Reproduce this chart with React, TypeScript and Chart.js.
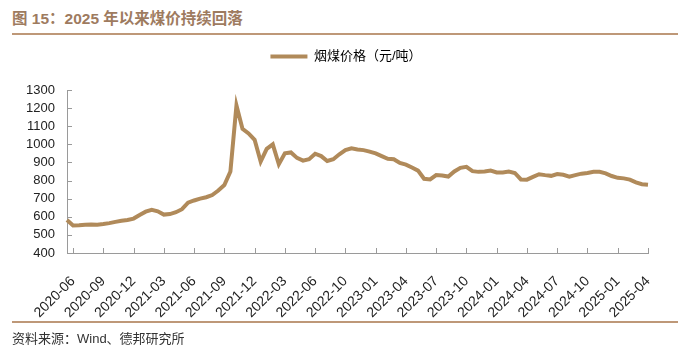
import React, { useEffect, useRef } from 'react';
import { Chart, registerables } from 'chart.js';

Chart.register(...registerables);

const titleText = '图 15：2025 年以来煤价持续回落';
const sourceText = '资料来源：Wind、德邦研究所';
const seriesName = '烟煤价格（元/吨）';

const tickLabels = [
  '2020-06', '2020-09', '2020-12', '2021-03', '2021-06', '2021-09', '2021-12',
  '2022-03', '2022-06', '2022-10', '2023-01', '2023-04', '2023-07', '2023-10',
  '2024-01', '2024-04', '2024-07', '2024-10', '2025-01', '2025-04',
];

const pointsPerTick = 5;
const leadPoints = 1;

const prices = [
  582, 552, 553, 556, 557, 556, 560, 565, 572, 578,
  582, 590, 610, 628, 638, 630, 612, 615, 625, 642,
  678, 690, 700, 708, 720, 745, 775, 850, 1215, 1085,
  1060, 1025, 905, 975, 1000, 890, 950, 955, 925, 910,
  918, 948, 935, 908, 918, 945, 968, 978, 972, 968,
  960, 950, 935, 920, 918, 897, 888, 872, 855, 810,
  806, 830, 828, 822, 850, 870, 876, 852, 848, 850,
  855, 845, 845, 850, 842, 806, 805, 820, 835, 830,
  826, 836, 832, 822, 830, 838, 842, 848, 848, 840,
  825, 815, 812, 805, 790, 780, 777,
];

const yMin = 400;
const yMax = 1300;
const yStep = 100;

const lineColor = '#B08A5A';
const axisColor = '#9a9a9a';
const textColor = '#222';
const fontFamily = "'Liberation Sans', Arial, 'Noto Sans CJK SC', sans-serif";

const categories = prices.map((_, i) => {
  const k = i - leadPoints;
  return k >= 0 && k % pointsPerTick === 0 ? tickLabels[k / pointsPerTick] : '';
});

const yTickValues: number[] = [];
for (let v = yMin; v <= yMax; v += yStep) yTickValues.push(v);

const innerTicks = {
  id: 'innerTicks',
  afterDraw(chart: any) {
    const { ctx, chartArea } = chart;
    const x = chart.scales.x;
    const y = chart.scales.y;
    ctx.save();
    ctx.strokeStyle = axisColor;
    ctx.lineWidth = 1;
    ctx.beginPath();
    x.ticks.forEach((_: any, i: number) => {
      const px = Math.round(x.getPixelForTick(i)) + 0.5;
      ctx.moveTo(px, chartArea.bottom);
      ctx.lineTo(px, chartArea.bottom - 5);
    });
    y.ticks.forEach((_: any, i: number) => {
      const py = Math.round(y.getPixelForTick(i)) + 0.5;
      ctx.moveTo(chartArea.left, py);
      ctx.lineTo(chartArea.left + 5, py);
    });
    ctx.stroke();
    ctx.restore();
  },
};

const legendSpacer = {
  id: 'legendSpacer',
  beforeInit(chart: any) {
    const legend = chart.legend;
    if (!legend) return;
    const orig = legend.fit;
    legend.fit = function () {
      orig.call(this);
      this.height += 17;
    };
  },
  afterLayout(chart: any) {
    const legend = chart.legend;
    if (!legend) return;
    legend.left += 22;
    legend.right += 22;
  },
};

export default function App() {
  const canvasRef = useRef<HTMLCanvasElement | null>(null);

  useEffect(() => {
    const canvas = canvasRef.current;
    if (!canvas) return;
    const chart = new Chart(canvas, {
      type: 'line',
      data: {
        labels: categories,
        datasets: [
          {
            label: seriesName,
            data: prices,
            borderColor: lineColor,
            backgroundColor: lineColor,
            borderWidth: 4,
            pointRadius: 0,
            tension: 0,
            fill: false,
          },
        ],
      },
      options: {
        animation: false,
        responsive: false,
        maintainAspectRatio: false,
        layout: { padding: { top: 40, left: 0, right: 37, bottom: 0 } },
        plugins: {
          legend: {
            display: true,
            position: 'top',
            align: 'center',
            labels: {
              boxWidth: 37,
              boxHeight: 4,
              padding: 10,
              color: textColor,
              font: { family: fontFamily, size: 13 },
              generateLabels: () => [
                {
                  text: seriesName,
                  fillStyle: lineColor,
                  strokeStyle: lineColor,
                  lineWidth: 0,
                  hidden: false,
                  datasetIndex: 0,
                },
              ],
            },
          },
          tooltip: { enabled: false },
          title: { display: false },
        },
        scales: {
          x: {
            type: 'category',
            offset: false,
            grid: { display: false, drawTicks: false },
            border: { display: true, color: axisColor, width: 1 },
            ticks: {
              autoSkip: false,
              maxRotation: 45,
              minRotation: 45,
              padding: 20,
              color: textColor,
              font: { family: fontFamily, size: 14 },
            },
            afterBuildTicks: (axis: any) => {
              axis.ticks = axis.ticks.filter((t: any) => categories[t.value] !== '');
            },
            afterFit: (axis: any) => {
              axis.height = 101;
            },
          },
          y: {
            type: 'linear',
            min: yMin,
            max: yMax,
            grid: { display: false, drawTicks: false },
            border: { display: true, color: axisColor, width: 1 },
            ticks: {
              autoSkip: false,
              stepSize: yStep,
              padding: 12,
              color: textColor,
              font: { family: fontFamily, size: 13 },
              callback: (v: any) => String(v),
            },
            afterBuildTicks: (axis: any) => {
              axis.ticks = yTickValues.map((v) => ({ value: v }));
            },
            afterFit: (axis: any) => {
              axis.width = 67;
            },
          },
        },
      },
      plugins: [innerTicks, legendSpacer],
    });
    return () => chart.destroy();
  }, []);

  return (
    <div style={{ position: 'absolute', left: 0, top: 0, width: 685, height: 354, background: '#fff', overflow: 'hidden' }}>
      <div
        style={{
          position: 'absolute', left: 12, top: 9, lineHeight: '20px', fontSize: 15.5, fontWeight: 'bold',
          color: '#9E7B5F', fontFamily, whiteSpace: 'nowrap',
        }}
      >
        {titleText}
      </div>
      <div style={{ position: 'absolute', left: 12, top: 33, width: 666, height: 1.5, background: '#BE9878' }} />
      <canvas ref={canvasRef} width={685} height={354} style={{ position: 'absolute', left: 0, top: 0 }} />
      <div style={{ position: 'absolute', left: 12, top: 321, width: 666, height: 1.5, background: '#BE9878' }} />
      <div
        style={{
          position: 'absolute', left: 12, top: 330, lineHeight: '18px', fontSize: 13,
          color: '#333', fontFamily, whiteSpace: 'nowrap',
        }}
      >
        {sourceText}
      </div>
    </div>
  );
}
